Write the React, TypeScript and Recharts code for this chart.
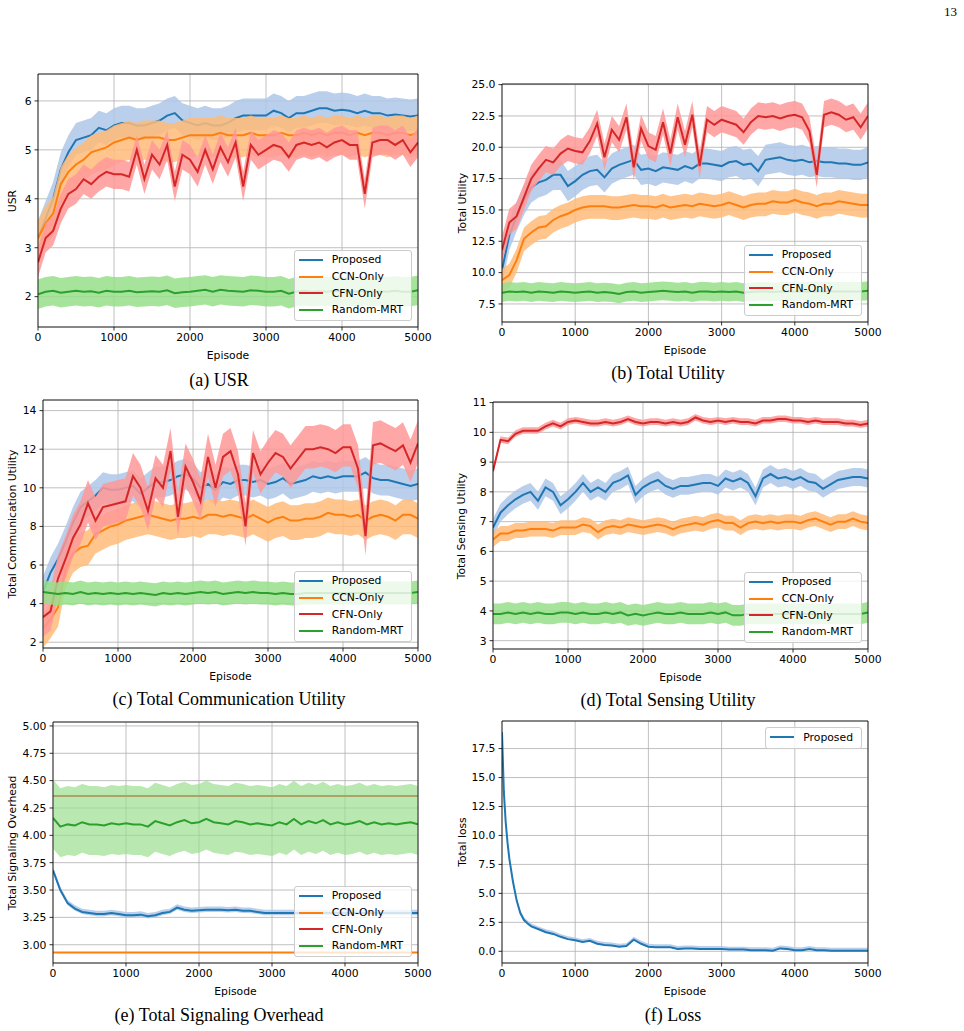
import { ComposedChart, Line, Area, XAxis, YAxis, CartesianGrid, ReferenceLine } from "recharts";

const FONT = '"DejaVu Sans", sans-serif';
const SERIF = '"Liberation Serif", "Times New Roman", serif';

const episodes = [
  0, 100, 200, 300, 400, 500, 600, 700, 800, 900,
  1000, 1100, 1200, 1300, 1400, 1500, 1600, 1700, 1800, 1900,
  2000, 2100, 2200, 2300, 2400, 2500, 2600, 2700, 2800, 2900,
  3000, 3100, 3200, 3300, 3400, 3500, 3600, 3700, 3800, 3900,
  4000, 4100, 4200, 4300, 4400, 4500, 4600, 4700, 4800, 4900,
  5000,
];
const xTicks = [0, 1000, 2000, 3000, 4000, 5000];
const legendNames = ["Proposed", "CCN-Only", "CFN-Only", "Random-MRT"];

// (a) USR
const usrPro = [
  3.2, 3.6, 4.0, 4.6, 4.95, 5.2, 5.25, 5.3, 5.45, 5.4,
  5.5, 5.55, 5.55, 5.5, 5.5, 5.55, 5.6, 5.7, 5.75, 5.6,
  5.55, 5.5, 5.55, 5.5, 5.5, 5.55, 5.65, 5.7, 5.7, 5.7,
  5.7, 5.8, 5.75, 5.65, 5.75, 5.75, 5.8, 5.85, 5.85, 5.8,
  5.82, 5.8, 5.75, 5.8, 5.75, 5.75, 5.7, 5.72, 5.7, 5.68,
  5.7,
];
const usrCcn = [
  3.2, 3.5, 3.7, 4.3, 4.55, 4.7, 4.8, 4.95, 5.0, 5.05,
  5.15, 5.2, 5.25, 5.2, 5.25, 5.25, 5.25, 5.2, 5.2, 5.25,
  5.3, 5.3, 5.3, 5.3, 5.35, 5.3, 5.3, 5.3, 5.35, 5.3,
  5.3, 5.3, 5.35, 5.3, 5.3, 5.35, 5.3, 5.35, 5.3, 5.35,
  5.35, 5.3, 5.35, 5.3, 5.35, 5.35, 5.3, 5.35, 5.35, 5.3,
  5.35,
];
const usrCfn = [
  2.7, 3.2, 3.35, 3.8, 4.1, 4.2, 4.4, 4.3, 4.45, 4.55,
  4.5, 4.5, 4.45, 5.0, 4.4, 4.9, 4.7, 5.1, 4.25, 4.9,
  4.8, 4.55, 5.0, 4.6, 5.05, 4.75, 5.15, 4.25, 5.1, 4.9,
  5.0, 5.1, 5.05, 4.85, 5.1, 5.15, 5.1, 5.15, 5.05, 5.15,
  5.2, 5.1, 5.1, 4.1, 5.15, 5.2, 5.2, 5.1, 5.2, 4.95,
  5.15,
];
const usrRnd = [
  2.05, 2.1, 2.12, 2.08, 2.1, 2.12, 2.1, 2.11, 2.08, 2.12,
  2.1, 2.1, 2.12, 2.09, 2.1, 2.11, 2.1, 2.13, 2.07, 2.09,
  2.1, 2.12, 2.14, 2.1, 2.14, 2.12, 2.11, 2.1, 2.13, 2.12,
  2.1, 2.1, 2.12, 2.06, 2.1, 2.12, 2.1, 2.11, 2.1, 2.12,
  2.1, 2.11, 2.1, 2.12, 2.1, 2.11, 2.1, 2.12, 2.1, 2.1,
  2.13,
];

// (b) Total Utility
const utilPro = [
  10.2, 13.0, 14.5, 15.8, 16.8, 17.2, 17.4, 17.8, 17.8, 16.9,
  17.3, 17.8, 18.1, 18.2, 17.6, 18.3, 18.6, 18.8, 19.0, 18.2,
  18.3, 18.1, 18.4, 18.3, 18.2, 18.5, 18.3, 18.7, 18.7, 18.6,
  18.5, 18.8, 18.9, 18.6, 18.7, 18.1, 19.0, 19.1, 19.2, 19.0,
  18.9, 19.0, 18.8, 18.9, 18.8, 18.8, 18.7, 18.7, 18.6, 18.6,
  18.8,
];
const utilCcn = [
  9.4, 9.8, 11.0, 12.7, 13.2, 13.6, 13.7, 14.2, 14.5, 14.7,
  15.0, 15.2, 15.3, 15.3, 15.3, 15.2, 15.2, 15.3, 15.4, 15.3,
  15.3, 15.2, 15.4, 15.2, 15.3, 15.4, 15.3, 15.5, 15.4, 15.3,
  15.4, 15.6, 15.4, 15.2, 15.4, 15.5, 15.5, 15.7, 15.6, 15.6,
  15.8, 15.6, 15.5, 15.3, 15.5, 15.5, 15.7, 15.6, 15.5, 15.4,
  15.4,
];
const utilCfn = [
  11.8, 14.0, 14.5, 16.0, 17.5, 18.3, 19.0, 18.8, 19.5, 19.9,
  19.7, 19.6, 20.5, 21.9, 19.2, 21.4, 20.6, 22.4, 18.4, 21.5,
  20.1, 19.8, 22.0, 19.5, 22.4, 20.2, 22.6, 18.5, 22.2, 21.8,
  22.2, 22.0, 21.8, 21.2, 22.0, 22.5, 22.4, 22.5, 22.3, 22.5,
  22.6, 22.4, 21.3, 17.8, 22.6, 22.8, 22.6, 22.2, 22.4, 21.6,
  22.5,
];
const utilRnd = [
  8.4, 8.5, 8.45, 8.5, 8.4, 8.5, 8.45, 8.4, 8.5, 8.45,
  8.4, 8.45, 8.5, 8.4, 8.45, 8.4, 8.3, 8.45, 8.5, 8.4,
  8.45, 8.5, 8.55, 8.5, 8.45, 8.5, 8.4, 8.5, 8.5, 8.45,
  8.5, 8.45, 8.5, 8.4, 8.45, 8.5, 8.5, 8.45, 8.5, 8.5,
  8.5, 8.5, 8.5, 8.5, 8.5, 8.5, 8.5, 8.5, 8.5, 8.5,
  8.55,
];

// (c) Total Communication Utility
const commPro = [
  4.6, 5.6, 6.3, 7.2, 8.2, 9.0, 9.3, 9.6, 10.0, 9.9,
  9.9, 10.0, 10.1, 9.7, 10.0, 10.3, 10.3, 10.4, 10.6, 10.7,
  10.5, 10.0, 10.2, 9.9, 10.3, 10.2, 10.4, 10.4, 10.3, 10.4,
  10.2, 10.3, 10.5, 10.2, 10.3, 10.4, 10.6, 10.5, 10.6, 10.5,
  10.6, 10.6, 10.6, 10.8, 10.5, 10.4, 10.4, 10.3, 10.2, 10.1,
  10.2,
];
const commCcn = [
  2.7, 3.2, 3.8, 5.8, 6.6, 6.9, 7.0, 7.6, 7.8, 8.0,
  8.1, 8.3, 8.4, 8.5, 8.6, 8.5, 8.4, 8.3, 8.4, 8.4,
  8.5, 8.4, 8.6, 8.6, 8.5, 8.6, 8.5, 8.4, 8.6, 8.4,
  8.2, 8.4, 8.5, 8.3, 8.3, 8.4, 8.4, 8.5, 8.7, 8.6,
  8.6, 8.5, 8.6, 8.3, 8.5, 8.6, 8.5, 8.3, 8.6, 8.6,
  8.4,
];
const commCfn = [
  3.3, 3.6, 5.3, 6.3, 7.4, 8.1, 9.2, 8.3, 9.0, 9.1,
  9.2, 9.3, 10.6, 10.0, 8.8, 10.5, 10.0, 11.9, 8.5, 11.1,
  10.3, 9.3, 11.6, 10.0, 11.6, 11.9, 10.7, 8.0, 11.8, 10.7,
  11.3, 11.8, 11.6, 11.0, 11.5, 12.0, 12.0, 12.1, 12.0, 11.8,
  12.1, 12.1, 11.0, 7.5, 12.2, 12.3, 12.1, 11.9, 12.2, 11.3,
  12.3,
];
const commRnd = [
  4.6, 4.55, 4.5, 4.55, 4.5, 4.6, 4.5, 4.55, 4.5, 4.55,
  4.5, 4.55, 4.5, 4.55, 4.5, 4.45, 4.55, 4.5, 4.55, 4.5,
  4.55, 4.6, 4.55, 4.6, 4.5, 4.55, 4.6, 4.55, 4.6, 4.55,
  4.55, 4.5, 4.55, 4.5, 4.5, 4.55, 4.55, 4.55, 4.55, 4.55,
  4.55, 4.55, 4.55, 4.55, 4.55, 4.55, 4.55, 4.55, 4.55, 4.55,
  4.6,
];

// (d) Total Sensing Utility
const sensPro = [
  6.8, 7.3, 7.55, 7.75, 7.9, 8.0, 7.7, 8.15, 8.0, 7.55,
  7.75, 8.0, 8.3, 8.0, 8.15, 8.0, 8.3, 8.4, 8.55, 7.9,
  8.15, 8.3, 8.4, 8.2, 8.1, 8.2, 8.2, 8.25, 8.3, 8.3,
  8.2, 8.45, 8.35, 8.45, 8.3, 7.85, 8.45, 8.6, 8.45, 8.5,
  8.4, 8.5, 8.35, 8.3, 8.1, 8.25, 8.4, 8.45, 8.5, 8.5,
  8.45,
];
const sensCcn = [
  6.4, 6.6, 6.6, 6.7, 6.7, 6.75, 6.75, 6.75, 6.7, 6.8,
  6.8, 6.8, 6.9, 6.85, 6.65, 6.8, 6.85, 6.8, 6.9, 6.85,
  6.8, 6.85, 6.9, 6.85, 6.75, 6.85, 6.9, 6.95, 6.9, 7.0,
  7.05, 6.95, 6.95, 6.8, 6.95, 7.0, 6.95, 7.0, 6.95, 7.0,
  7.0, 6.95, 7.05, 7.1, 7.0, 6.9, 7.0, 7.0, 7.1, 7.0,
  6.95,
];
const sensCfn = [
  8.7, 9.75, 9.7, 9.95, 10.05, 10.05, 10.05, 10.2, 10.3, 10.2,
  10.35, 10.4, 10.35, 10.3, 10.3, 10.35, 10.3, 10.35, 10.45, 10.35,
  10.3, 10.35, 10.35, 10.3, 10.35, 10.3, 10.35, 10.5, 10.4, 10.35,
  10.4, 10.35, 10.4, 10.35, 10.35, 10.3, 10.4, 10.4, 10.45, 10.45,
  10.4, 10.4, 10.35, 10.4, 10.35, 10.35, 10.35, 10.3, 10.3, 10.25,
  10.3,
];
const sensRnd = [
  3.9, 3.9, 3.95, 3.9, 3.95, 3.9, 3.95, 3.9, 3.9, 3.95,
  3.95, 3.9, 3.95, 3.9, 3.9, 3.95, 3.9, 3.95, 3.85, 3.9,
  3.85, 3.9, 3.95, 3.9, 3.9, 3.95, 3.9, 3.9, 3.9, 3.95,
  3.9, 3.95, 3.85, 3.85, 3.9, 3.9, 3.9, 3.9, 3.9, 3.9,
  3.9, 3.9, 3.9, 3.9, 3.9, 3.9, 3.9, 3.9, 3.9, 3.9,
  3.95,
];

// (e) Total Signaling Overhead
const sigPro = [
  3.68, 3.5, 3.38, 3.33, 3.3, 3.29, 3.28, 3.28, 3.29, 3.28,
  3.27, 3.27, 3.275, 3.26, 3.27, 3.29, 3.3, 3.34, 3.32, 3.31,
  3.315, 3.32, 3.32, 3.32, 3.315, 3.32, 3.31, 3.31, 3.3, 3.29,
  3.29, 3.29, 3.29, 3.29, 3.29, 3.29, 3.29, 3.29, 3.29, 3.29,
  3.29, 3.29, 3.29, 3.29, 3.29, 3.29, 3.29, 3.29, 3.29, 3.29,
  3.29,
];
const sigCcn = 2.93;
const sigCfn = 4.36;
const sigRnd = [
  4.16, 4.08, 4.1, 4.09, 4.12, 4.1, 4.1, 4.09, 4.11, 4.1,
  4.11, 4.1, 4.1, 4.08, 4.13, 4.11, 4.09, 4.12, 4.14, 4.11,
  4.12, 4.15, 4.12, 4.11, 4.1, 4.13, 4.12, 4.1, 4.11, 4.1,
  4.09, 4.12, 4.1, 4.15, 4.1, 4.13, 4.11, 4.14, 4.1, 4.12,
  4.1, 4.11, 4.13, 4.1, 4.12, 4.1, 4.11, 4.1, 4.11, 4.12,
  4.1,
];

// (f) Loss
const lossEpisodes = [
  0, 25, 50, 75, 100, 150, 200, 250, 300, 350,
  400, 500, 600, 700, 800, 900, 1000, 1100, 1200, 1300,
  1400, 1500, 1600, 1700, 1800, 1900, 2000, 2100, 2200, 2300,
  2400, 2500, 2600, 2700, 2800, 2900, 3000, 3100, 3200, 3300,
  3400, 3500, 3600, 3700, 3800, 3900, 4000, 4100, 4200, 4300,
  4400, 4500, 4600, 4700, 4800, 4900, 5000,
];
const lossPro = [
  18.9, 13.8, 11.2, 9.4, 8.0, 6.0, 4.4, 3.3, 2.7, 2.4,
  2.15, 1.9, 1.65, 1.5, 1.25, 1.05, 0.95, 0.8, 0.9, 0.65,
  0.55, 0.5, 0.4, 0.45, 1.0, 0.65, 0.4, 0.35, 0.35, 0.35,
  0.2, 0.25, 0.25, 0.2, 0.2, 0.2, 0.2, 0.15, 0.15, 0.15,
  0.1, 0.1, 0.1, 0.05, 0.25, 0.2, 0.1, 0.1, 0.2, 0.1,
  0.1, 0.05, 0.05, 0.05, 0.05, 0.05, 0.05,
];

// raw-episode spread around the smoothed curve [below, above]
const usrSpread = { pro: [0.3, 0.35], ccn: [0.45, 0.35], cfn: [0.3, 0.3], rnd: [0.3, 0.3] };
const utilSpread = { pro: [1.2, 1.2], ccn: [1.0, 0.9], cfn: [1.0, 1.1], rnd: [0.75, 0.75] };
const commSpread = { pro: [0.8, 0.8], ccn: [1.0, 0.8], cfn: [1.0, 1.2], rnd: [0.6, 0.6] };
const sensSpread = { pro: [0.3, 0.3], ccn: [0.25, 0.25], cfn: [0.1, 0.12], rnd: [0.35, 0.35] };
const sigSpread = { pro: [0.02, 0.03], rnd: [0.28, 0.35] };
const lossSpread = [0.05, 0.25];

const DARK = { pro: "#1f77b4", ccn: "#ff7f0e", cfn: "#d62728", rnd: "#2ca02c" };
const LIGHT = { pro: "#aec7e8", ccn: "#ffbb78", cfn: "#ff9896", rnd: "#98df8a" };

type Series = { key: string; values?: number[]; flat?: number; spread?: number[]; bandOpacity?: number };
type Box = { x: number; y: number; w: number; h: number };

const YW = 60;
const XH = 45;
const MT = 8;
const MR = 14;
const PAGE_W = 964;
const PAGE_H = 1031;

function Legend({ box, names, top }: { box: Box; names: string[]; top?: boolean }) {
  const keys = ["pro", "ccn", "cfn", "rnd"];
  const pos: any = { position: "absolute", right: PAGE_W - (box.x + box.w - 6) };
  if (top) pos.top = box.y + 6;
  else pos.bottom = PAGE_H - (box.y + box.h - 6);
  return (
    <div
      style={{
        ...pos,
        background: "rgba(255,255,255,0.8)",
        border: "1px solid #cccccc",
        borderRadius: 3,
        padding: "1px 8px 2px 4px",
        fontFamily: FONT,
        fontSize: 10.8,
        color: "#000",
      }}
    >
      {names.map((n, i) => (
        <div key={n} style={{ display: "flex", alignItems: "center", height: 16.6 }}>
          <div style={{ width: 24, height: 2, background: (DARK as any)[keys[i]], marginRight: 9 }} />
          <span>{n}</span>
        </div>
      ))}
    </div>
  );
}

function Panel({
  box,
  eps,
  series,
  yDomain,
  yTicks,
  yFmt,
  yLabel,
  yLabelX,
  caption,
  captionX,
  captionY,
  legendTop,
  names,
}: {
  box: Box;
  eps: number[];
  series: Series[];
  yDomain: number[];
  yTicks: number[];
  yFmt: (v: number) => string;
  yLabel: string;
  yLabelX: number;
  caption: string;
  captionX: number;
  captionY: number;
  legendTop?: boolean;
  names: string[];
}) {
  const rows = eps.map((ep, i) => {
    const r: any = { ep };
    series.forEach((s) => {
      if (s.values) {
        r[s.key] = s.values[i];
        if (s.spread) r[s.key + "Band"] = [s.values[i] - s.spread[0], s.values[i] + s.spread[1]];
      } else if (s.flat !== undefined) {
        r[s.key] = s.flat;
      }
    });
    return r;
  });

  const tickStyle = { fontSize: 10.8, fill: "#000", fontFamily: FONT };
  const items: any[] = [];
  let z = 10;
  series.forEach((s) => {
    const k = s.key;
    if (s.spread) {
      items.push(
        <Area
          key={k + "Band"}
          dataKey={k + "Band"}
          stroke="none"
          fill={(LIGHT as any)[k]}
          fillOpacity={s.bandOpacity ?? 0.85}
          isAnimationActive={false}
          activeDot={false}
          zIndex={z++}
        />
      );
    }
    items.push(
      <Line
        key={k}
        dataKey={k}
        stroke={(DARK as any)[k]}
        strokeWidth={2}
        dot={false}
        activeDot={false}
        isAnimationActive={false}
        zIndex={z++}
      />
    );
  });

  return (
    <>
      <div style={{ position: "absolute", left: box.x - YW, top: box.y - MT }}>
        <ComposedChart
          width={box.w + YW + MR}
          height={box.h + MT + XH}
          data={rows}
          margin={{ top: MT, right: MR, left: 0, bottom: 0 }}
        >
          <CartesianGrid stroke="#b0b0b0" strokeWidth={0.8} />
          <XAxis
            type="number"
            dataKey="ep"
            domain={[0, 5000]}
            ticks={xTicks}
            interval={0}
            height={XH}
            allowDataOverflow
            tickSize={3.5}
            tickMargin={3}
            tickLine={{ stroke: "#000", strokeWidth: 0.8 }}
            axisLine={{ stroke: "#000", strokeWidth: 0.8 }}
            tick={tickStyle}
          />
          <YAxis
            type="number"
            domain={yDomain}
            ticks={yTicks}
            interval={0}
            width={YW}
            allowDataOverflow
            tickFormatter={yFmt}
            tickSize={3.5}
            tickMargin={3}
            tickLine={{ stroke: "#000", strokeWidth: 0.8 }}
            axisLine={{ stroke: "#000", strokeWidth: 0.8 }}
            tick={tickStyle}
          />
          {items}
          <ReferenceLine y={yDomain[1]} stroke="#000" strokeWidth={0.8} zIndex={900} />
          <ReferenceLine x={5000} stroke="#000" strokeWidth={0.8} zIndex={900} />
        </ComposedChart>
      </div>
      <div
        style={{
          position: "absolute",
          left: yLabelX,
          top: box.y + box.h / 2,
          transform: "translate(-50%, -50%) rotate(-90deg)",
          whiteSpace: "nowrap",
          fontFamily: FONT,
          fontSize: 10.8,
          color: "#000",
        }}
      >
        {yLabel}
      </div>
      <div
        style={{
          position: "absolute",
          left: box.x + box.w / 2,
          top: box.y + box.h + 28,
          transform: "translate(-50%, -50%)",
          fontFamily: FONT,
          fontSize: 10.8,
          color: "#000",
        }}
      >
        Episode
      </div>
      <Legend box={box} names={names} top={legendTop} />
      <div
        style={{
          position: "absolute",
          left: captionX,
          top: captionY - 15,
          transform: "translateX(-50%)",
          whiteSpace: "nowrap",
          fontFamily: SERIF,
          fontSize: 18,
          lineHeight: "18px",
          color: "#000",
        }}
      >
        {caption}
      </div>
    </>
  );
}

export default function App() {
  const int = (v: number) => String(v);
  const one = (v: number) => v.toFixed(1);
  const two = (v: number) => v.toFixed(2);
  return (
    <div style={{ position: "relative", width: PAGE_W, height: PAGE_H, background: "#fff", overflow: "hidden" }}>
      <style>{"body{margin:0}"}</style>
      <div
        style={{
          position: "absolute",
          right: PAGE_W - 957,
          top: 5,
          fontFamily: SERIF,
          fontSize: 13,
          lineHeight: "13px",
          color: "#000",
        }}
      >
        13
      </div>

      <Panel
        box={{ x: 38, y: 74, w: 380, h: 253 }}
        eps={episodes}
        series={[
          { key: "pro", values: usrPro, spread: usrSpread.pro },
          { key: "ccn", values: usrCcn, spread: usrSpread.ccn },
          { key: "cfn", values: usrCfn, spread: usrSpread.cfn },
          { key: "rnd", values: usrRnd, spread: usrSpread.rnd },
        ]}
        yDomain={[1.38, 6.55]}
        yTicks={[2, 3, 4, 5, 6]}
        yFmt={int}
        yLabel="USR"
        yLabelX={12}
        caption="(a) USR"
        captionX={219}
        captionY={386}
        names={legendNames}
      />
      <Panel
        box={{ x: 502, y: 84, w: 366, h: 238 }}
        eps={episodes}
        series={[
          { key: "pro", values: utilPro, spread: utilSpread.pro },
          { key: "ccn", values: utilCcn, spread: utilSpread.ccn },
          { key: "cfn", values: utilCfn, spread: utilSpread.cfn },
          { key: "rnd", values: utilRnd, spread: utilSpread.rnd },
        ]}
        yDomain={[6.06, 25.05]}
        yTicks={[7.5, 10, 12.5, 15, 17.5, 20, 22.5, 25]}
        yFmt={one}
        yLabel="Total Utility"
        yLabelX={462}
        caption="(b) Total Utility"
        captionX={668}
        captionY={379}
        names={legendNames}
      />
      <Panel
        box={{ x: 43, y: 400, w: 375, h: 248 }}
        eps={episodes}
        series={[
          { key: "pro", values: commPro, spread: commSpread.pro },
          { key: "ccn", values: commCcn, spread: commSpread.ccn },
          { key: "cfn", values: commCfn, spread: commSpread.cfn },
          { key: "rnd", values: commRnd, spread: commSpread.rnd },
        ]}
        yDomain={[1.7, 14.55]}
        yTicks={[2, 4, 6, 8, 10, 12, 14]}
        yFmt={int}
        yLabel="Total Communication Utility"
        yLabelX={12}
        caption="(c) Total Communication Utility"
        captionX={229}
        captionY={705}
        names={legendNames}
      />
      <Panel
        box={{ x: 493, y: 402, w: 375, h: 247 }}
        eps={episodes}
        series={[
          { key: "pro", values: sensPro, spread: sensSpread.pro },
          { key: "ccn", values: sensCcn, spread: sensSpread.ccn },
          { key: "cfn", values: sensCfn, spread: sensSpread.cfn },
          { key: "rnd", values: sensRnd, spread: sensSpread.rnd },
        ]}
        yDomain={[2.72, 11.02]}
        yTicks={[3, 4, 5, 6, 7, 8, 9, 10, 11]}
        yFmt={int}
        yLabel="Total Sensing Utility"
        yLabelX={461}
        caption="(d) Total Sensing Utility"
        captionX={668}
        captionY={706}
        names={legendNames}
      />
      <Panel
        box={{ x: 53, y: 722, w: 365, h: 241 }}
        eps={episodes}
        series={[
          { key: "pro", values: sigPro, spread: sigSpread.pro },
          { key: "ccn", flat: sigCcn },
          { key: "cfn", flat: sigCfn },
          { key: "rnd", values: sigRnd, spread: sigSpread.rnd, bandOpacity: 0.68 },
        ]}
        yDomain={[2.833, 5.036]}
        yTicks={[3, 3.25, 3.5, 3.75, 4, 4.25, 4.5, 4.75, 5]}
        yFmt={two}
        yLabel="Total Signaling Overhead"
        yLabelX={12}
        caption="(e) Total Signaling Overhead"
        captionX={219}
        captionY={1021}
        names={legendNames}
      />
      <Panel
        box={{ x: 502, y: 721, w: 366, h: 242 }}
        eps={lossEpisodes}
        series={[{ key: "pro", values: lossPro, spread: lossSpread }]}
        yDomain={[-1.01, 19.88]}
        yTicks={[0, 2.5, 5, 7.5, 10, 12.5, 15, 17.5]}
        yFmt={one}
        yLabel="Total loss"
        yLabelX={462}
        caption="(f) Loss"
        captionX={673}
        captionY={1021}
        legendTop
        names={["Proposed"]}
      />
    </div>
  );
}
